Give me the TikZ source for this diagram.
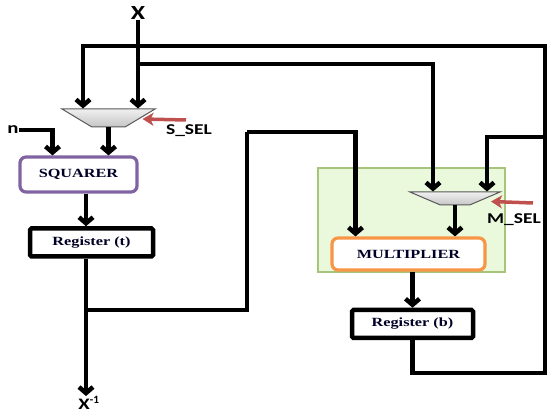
\documentclass[tikz,border=0pt]{standalone}
\usepackage{fontspec}
\usepackage{graphicx}
\setmainfont{Liberation Serif}
\newfontfamily\lblfont{Carlito}
\usetikzlibrary{arrows.meta,shapes.geometric,calc}
\definecolor{sqpurple}{HTML}{8064A2}
\definecolor{mulorange}{HTML}{F79646}
\definecolor{grfill}{HTML}{EAF8DC}
\definecolor{grdraw}{HTML}{A6C47A}
\definecolor{selred}{HTML}{C0504D}
\tikzset{
  wire/.style={line width=4.5pt, black, line join=miter},
  arr/.style={wire, -{Straight Barb[length=6pt,width=14pt]}},
  redarr/.style={line width=3.5pt, selred, -{Stealth[length=11pt,width=13pt,inset=3pt]}},
  muxbox/.style={trapezium, shape border rotate=180, trapezium stretches=true,
     draw=gray!70!black, line width=1pt, top color=gray!12, bottom color=gray!45, inner sep=1pt},
  boxtext/.style={font=\fontsize{12.5}{14}\selectfont\bfseries, text=black!85!blue},
  sqbox/.style={draw=sqpurple, line width=3.2pt, rounded corners=6pt, fill=white,
     minimum width=117pt, minimum height=35pt, boxtext},
  mulbox/.style={draw=mulorange, line width=3.2pt, rounded corners=6pt, fill=white,
     minimum width=153pt, minimum height=32pt, boxtext},
  regbox/.style={draw=black, line width=4.5pt, rounded corners=1.5pt, fill=white,
     minimum height=28pt, boxtext},
  greenbox/.style={draw=grdraw, line width=1.2pt, fill=grfill},
  lbl/.style={font=\lblfont\bfseries\fontsize{15}{17}\selectfont, inner sep=0pt},
}
\newcommand{\widetxt}[1]{\scalebox{1.3}[1]{#1}}
\begin{document}
\begin{tikzpicture}[x=1pt,y=-1pt]
\useasboundingbox (0,0) rectangle (547,414);
% green box
\node[greenbox, minimum width=187pt, minimum height=104pt] (gb) at (411.5,220) {};
% nodes
\node[lbl, font=\lblfont\bfseries\fontsize{20}{22}\selectfont] (xlab) at (138,13) {\widetxt{X}};
\node[lbl, font=\lblfont\bfseries\fontsize{16}{18}\selectfont] (nlab) at (13,130) {\widetxt{n}};
\node[muxbox, minimum width=93pt, minimum height=18pt, trapezium left angle=48, trapezium right angle=48] (m1) at (108.5,118) {};
\node[muxbox, minimum width=90pt, minimum height=13pt, trapezium left angle=44, trapezium right angle=44] (m2) at (455,198.5) {};
\node[sqbox] (sq) at (78.5,174.5) {\widetxt{SQUARER}};
\node[regbox, minimum width=123pt] (rt) at (91.5,242.5) {\widetxt{Register (t)}};
\node[mulbox] (mul) at (408.5,254) {\widetxt{MULTIPLIER}};
\node[regbox, minimum width=121pt] (rb) at (412.5,324) {\widetxt{Register (b)}};
\node[lbl, font=\lblfont\bfseries\fontsize{16}{18}\selectfont] (out) at (89,403) {\widetxt{X}\textsuperscript{-1}};
\node[lbl] (ssel) at (189,131) {\widetxt{S\_SEL}};
\node[lbl] (msel) at (514,220) {\widetxt{M\_SEL}};
% coordinates
\coordinate (xj) at (138,64);
\coordinate (tl) at (83,46);
\coordinate (tr) at (545,46);
\coordinate (br) at (545,373);
\coordinate (rj) at (545,137);
\coordinate (bj) at (86,310);
\coordinate (bk) at (247,132);
\coordinate (xo) at (86,0);
\coordinate (sa) at (186,120);
\coordinate (ma) at (533,203);
% wires
\draw[arr] (xlab.south) -- (xlab.south |- m1.north);
\draw[arr] (rb.south) |- (br) -- (tr) -- (tl) -- (tl |- m1.north);
\draw[arr] (xj) -| ($(m2.north)+(-22,0)$);
\draw[arr] (rj) -| ($(m2.north)+(32,0)$);
\draw[arr] (nlab.east) -| ($(sq.north)+(-26,0)$);
\draw[arr] (m1.south) -- (m1.south |- sq.north);
\draw[arr] (sq.south -| xo) -- (xo |- rt.north);
\draw[arr] (rt.south -| xo) -- (out.north -| xo);
\draw[wire] (bj) -| (bk);
\draw[arr] (bk) -| ($(mul.north)+(-53,0)$);
\draw[arr] (m2.south) -- (m2.south |- mul.north);
\draw[arr] (mul.south -| rb.north) -- (rb.north);
% select arrows
\draw[redarr] (sa) -- ($(m1.center)+(34,1)$);
\draw[redarr] (ma) -- ($(m2.center)+(36,3)$);
\end{tikzpicture}
\end{document}
